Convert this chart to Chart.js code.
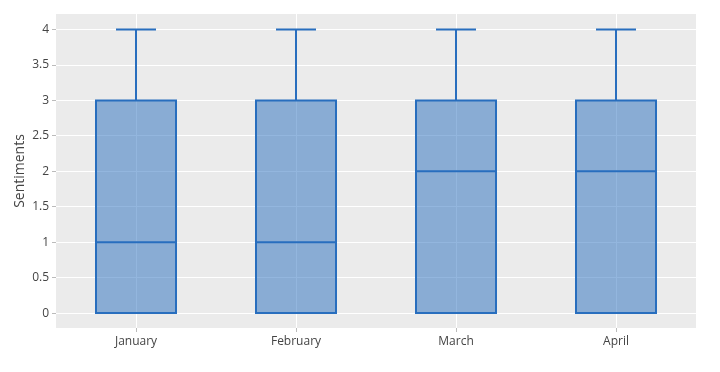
<!DOCTYPE html>
<html lang="en">
<head>
    <meta charset="UTF-8">
    <title>Sentiments par mois</title>
    <script src="https://cdn.jsdelivr.net/npm/chart.js"></script>
    <style>
        html, body {
            margin: 0;
            padding: 0;
            background: #fff;
        }
        .chart-box {
            width: 720px;
            height: 372px;
        }
    </style>
</head>
<body>
    <div class="chart-box">
        <canvas id="boxChart"></canvas>
    </div>

    <script>
        // data
        const months = ['January', 'February', 'March', 'April'];
        const mins = [0, 0, 0, 0];
        const q1s = [0, 0, 0, 0];
        const medians = [1, 1, 2, 2];
        const q3s = [3, 3, 3, 3];
        const maxs = [4, 4, 4, 4];
        const yTicks = [0, 0.5, 1, 1.5, 2, 2.5, 3, 3.5, 4];

        const lineColor = 'rgb(40, 110, 190)';
        const fillColor = 'rgba(40, 110, 190, 0.5)';
        const textColor = '#444';

        // grey plotting area
        const plotBackground = {
            id: 'plotBackground',
            beforeDraw(chart) {
                const { ctx, chartArea } = chart;
                ctx.save();
                ctx.fillStyle = '#ebebeb';
                ctx.fillRect(chartArea.left, chartArea.top, chartArea.right - chartArea.left, chartArea.bottom - chartArea.top);
                ctx.restore();
            }
        };

        // box outline, whiskers, caps and median drawn from the scales
        const boxExtras = {
            id: 'boxExtras',
            afterDatasetsDraw(chart) {
                const { ctx, scales } = chart;
                const meta = chart.getDatasetMeta(0);
                ctx.save();
                ctx.strokeStyle = lineColor;
                ctx.lineWidth = 2;
                months.forEach((m, i) => {
                    const bar = meta.data[i];
                    const x = scales.x.getPixelForValue(i);
                    const half = bar.width / 2;
                    const cap = half / 2;
                    const yMin = scales.y.getPixelForValue(mins[i]);
                    const yQ1 = scales.y.getPixelForValue(q1s[i]);
                    const yMed = scales.y.getPixelForValue(medians[i]);
                    const yQ3 = scales.y.getPixelForValue(q3s[i]);
                    const yMax = scales.y.getPixelForValue(maxs[i]);

                    ctx.beginPath();
                    // box
                    ctx.rect(x - half, yQ3, half * 2, yQ1 - yQ3);
                    // upper whisker + cap
                    ctx.moveTo(x, yQ3);
                    ctx.lineTo(x, yMax);
                    ctx.moveTo(x - cap, yMax);
                    ctx.lineTo(x + cap, yMax);
                    // lower whisker + cap
                    if (yMin !== yQ1) {
                        ctx.moveTo(x, yQ1);
                        ctx.lineTo(x, yMin);
                        ctx.moveTo(x - cap, yMin);
                        ctx.lineTo(x + cap, yMin);
                    }
                    // median
                    ctx.moveTo(x - half, yMed);
                    ctx.lineTo(x + half, yMed);
                    ctx.stroke();
                });
                ctx.restore();
            }
        };

        new Chart(document.getElementById('boxChart'), {
            type: 'bar',
            data: {
                labels: months,
                datasets: [{
                    data: months.map((m, i) => [q1s[i], q3s[i]]),
                    backgroundColor: fillColor,
                    borderWidth: 0,
                    categoryPercentage: 1,
                    barPercentage: 0.5
                }]
            },
            options: {
                responsive: true,
                maintainAspectRatio: false,
                animation: false,
                events: [],
                layout: {
                    padding: { top: 14, right: 24, left: 0, bottom: 0 }
                },
                plugins: {
                    legend: { display: false },
                    tooltip: { enabled: false }
                },
                scales: {
                    x: {
                        afterFit(scale) { scale.height = 44; },
                        grid: {
                            offset: false,
                            color: '#ffffff',
                            lineWidth: 1,
                            tickColor: '#bbb',
                            tickLength: 4
                        },
                        border: { display: false },
                        ticks: {
                            color: textColor,
                            padding: 2,
                            font: { family: '"Open Sans", sans-serif', size: 12 }
                        }
                    },
                    y: {
                        min: -0.21,
                        max: 4.22,
                        afterFit(scale) { scale.width = 56; },
                        afterBuildTicks(scale) {
                            scale.ticks = yTicks.map(v => ({ value: v }));
                        },
                        grid: {
                            color: '#ffffff',
                            lineWidth: 1,
                            tickColor: '#bbb',
                            tickLength: 4
                        },
                        border: { display: false },
                        ticks: {
                            color: textColor,
                            padding: 3,
                            font: { family: '"Open Sans", sans-serif', size: 12 },
                            callback: (v) => String(v)
                        },
                        title: {
                            display: true,
                            text: 'Sentiments',
                            color: textColor,
                            padding: { top: 12, bottom: 0 },
                            font: { family: '"Open Sans", sans-serif', size: 14 }
                        }
                    }
                }
            },
            plugins: [plotBackground, boxExtras]
        });
    </script>
</body>
</html>
